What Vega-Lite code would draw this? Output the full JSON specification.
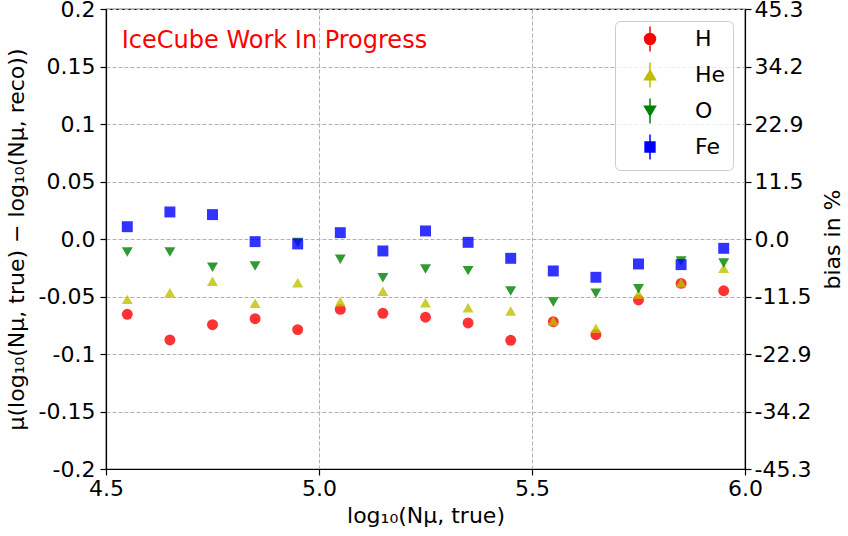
{
  "$schema": "https://vega.github.io/schema/vega-lite/v6.json",
  "autosize": {"type": "none"},
  "width": 639,
  "height": 460,
  "padding": {"left": 106, "top": 9, "right": 103, "bottom": 67},
  "config": {
    "font": "DejaVu Sans",
    "view": {"stroke": "black", "strokeWidth": 1.2},
    "axis": {
      "labelFont": "DejaVu Sans",
      "titleFont": "DejaVu Sans",
      "labelFontSize": 22,
      "titleFontSize": 22,
      "titleFontWeight": "normal",
      "labelColor": "black",
      "titleColor": "black",
      "labelFlush": false,
      "labelOverlap": false,
      "domainColor": "black",
      "domainWidth": 1.2,
      "tickColor": "black",
      "tickSize": 6,
      "tickWidth": 1.2,
      "gridColor": "#b0b0b0",
      "gridDash": [4, 2],
      "gridWidth": 1
    },
    "legend": {
      "labelFont": "DejaVu Sans",
      "labelFontSize": 22,
      "labelColor": "black",
      "orient": "top-right",
      "offset": 12,
      "padding": 7,
      "rowPadding": 4,
      "symbolSize": 120,
      "symbolOffset": 17,
      "labelOffset": 34,
      "symbolOpacity": 1,
      "strokeColor": "#cccccc",
      "cornerRadius": 5,
      "fillColor": "rgba(255,255,255,0.8)"
    }
  },
  "datasets": {
    "bias": [
      {"lg": 4.55, "bias": -0.0655, "comp": "H"},
      {"lg": 4.65, "bias": -0.0878, "comp": "H"},
      {"lg": 4.75, "bias": -0.0745, "comp": "H"},
      {"lg": 4.85, "bias": -0.0693, "comp": "H"},
      {"lg": 4.95, "bias": -0.0788, "comp": "H"},
      {"lg": 5.05, "bias": -0.0612, "comp": "H"},
      {"lg": 5.15, "bias": -0.0646, "comp": "H"},
      {"lg": 5.25, "bias": -0.068, "comp": "H"},
      {"lg": 5.35, "bias": -0.073, "comp": "H"},
      {"lg": 5.45, "bias": -0.0881, "comp": "H"},
      {"lg": 5.55, "bias": -0.0719, "comp": "H"},
      {"lg": 5.65, "bias": -0.0832, "comp": "H"},
      {"lg": 5.75, "bias": -0.053, "comp": "H"},
      {"lg": 5.85, "bias": -0.0386, "comp": "H"},
      {"lg": 5.95, "bias": -0.045, "comp": "H"},
      {"lg": 4.55, "bias": -0.0525, "comp": "He"},
      {"lg": 4.65, "bias": -0.0467, "comp": "He"},
      {"lg": 4.75, "bias": -0.0368, "comp": "He"},
      {"lg": 4.85, "bias": -0.0559, "comp": "He"},
      {"lg": 4.95, "bias": -0.038, "comp": "He"},
      {"lg": 5.05, "bias": -0.0545, "comp": "He"},
      {"lg": 5.15, "bias": -0.0455, "comp": "He"},
      {"lg": 5.25, "bias": -0.0554, "comp": "He"},
      {"lg": 5.35, "bias": -0.0597, "comp": "He"},
      {"lg": 5.45, "bias": -0.0626, "comp": "He"},
      {"lg": 5.55, "bias": -0.0713, "comp": "He"},
      {"lg": 5.65, "bias": -0.0777, "comp": "He"},
      {"lg": 5.75, "bias": -0.0478, "comp": "He"},
      {"lg": 5.85, "bias": -0.038, "comp": "He"},
      {"lg": 5.95, "bias": -0.0255, "comp": "He"},
      {"lg": 4.55, "bias": -0.0113, "comp": "O"},
      {"lg": 4.65, "bias": -0.0113, "comp": "O"},
      {"lg": 4.75, "bias": -0.0246, "comp": "O"},
      {"lg": 4.85, "bias": -0.0235, "comp": "O"},
      {"lg": 4.95, "bias": -0.003, "comp": "O"},
      {"lg": 5.05, "bias": -0.0177, "comp": "O"},
      {"lg": 5.15, "bias": -0.0336, "comp": "O"},
      {"lg": 5.25, "bias": -0.026, "comp": "O"},
      {"lg": 5.35, "bias": -0.0275, "comp": "O"},
      {"lg": 5.45, "bias": -0.0452, "comp": "O"},
      {"lg": 5.55, "bias": -0.0548, "comp": "O"},
      {"lg": 5.65, "bias": -0.0472, "comp": "O"},
      {"lg": 5.75, "bias": -0.0432, "comp": "O"},
      {"lg": 5.85, "bias": -0.0191, "comp": "O"},
      {"lg": 5.95, "bias": -0.0209, "comp": "O"},
      {"lg": 4.55, "bias": 0.0107, "comp": "Fe"},
      {"lg": 4.65, "bias": 0.0235, "comp": "Fe"},
      {"lg": 4.75, "bias": 0.0212, "comp": "Fe"},
      {"lg": 4.85, "bias": -0.0023, "comp": "Fe"},
      {"lg": 4.95, "bias": -0.0043, "comp": "Fe"},
      {"lg": 5.05, "bias": 0.0055, "comp": "Fe"},
      {"lg": 5.15, "bias": -0.0104, "comp": "Fe"},
      {"lg": 5.25, "bias": 0.007, "comp": "Fe"},
      {"lg": 5.35, "bias": -0.0029, "comp": "Fe"},
      {"lg": 5.45, "bias": -0.0168, "comp": "Fe"},
      {"lg": 5.55, "bias": -0.0278, "comp": "Fe"},
      {"lg": 5.65, "bias": -0.0333, "comp": "Fe"},
      {"lg": 5.75, "bias": -0.0217, "comp": "Fe"},
      {"lg": 5.85, "bias": -0.0223, "comp": "Fe"},
      {"lg": 5.95, "bias": -0.0081, "comp": "Fe"}
    ],
    "note": [
      {"lg": 4.537, "bias": 0.172, "label": "IceCube Work In Progress"}
    ]
  },
  "layer": [
    {
      "data": {"name": "bias"},
      "mark": {"type": "point", "filled": true, "size": 120, "opacity": 0.8},
      "encoding": {
        "x": {
          "field": "lg",
          "type": "quantitative",
          "scale": {"domain": [4.5, 6.0], "nice": false, "zero": false},
          "axis": {
            "values": [4.5, 5.0, 5.5, 6.0],
            "format": ".1f",
            "labelPadding": 3,
            "title": "log₁₀(Nμ, true)",
            "titlePadding": 6
          }
        },
        "y": {
          "field": "bias",
          "type": "quantitative",
          "scale": {"domain": [-0.2, 0.2], "nice": false, "zero": false},
          "axis": {
            "orient": "left",
            "values": [-0.2, -0.15, -0.1, -0.05, 0, 0.05, 0.1, 0.15, 0.2],
            "labelExpr": "datum.value == 0 ? '0.0' : replace(format(datum.value, '.2~f'), '\u2212', '-')",
            "labelPadding": 5,
            "title": "μ(log₁₀(Nμ, true) − log₁₀(Nμ, reco))",
            "titlePadding": 10
          }
        },
        "color": {
          "field": "comp",
          "type": "nominal",
          "scale": {"domain": ["H", "He", "O", "Fe"], "range": ["#ff0000", "#bfbf00", "#008000", "#0000ff"]},
          "legend": null
        },
        "shape": {
          "field": "comp",
          "type": "nominal",
          "scale": {"domain": ["H", "He", "O", "Fe"], "range": ["circle", "triangle-up", "triangle-down", "square"]},
          "legend": null
        }
      }
    },
    {
      "data": {"name": "bias"},
      "mark": {"type": "point", "filled": true, "size": 0, "strokeWidth": 1.5},
      "encoding": {
        "x": {"field": "lg", "type": "quantitative"},
        "y": {"field": "bias", "type": "quantitative", "axis": null},
        "color": {
          "field": "comp",
          "type": "nominal",
          "scale": {"domain": ["H", "He", "O", "Fe"], "range": ["#ff0000", "#bfbf00", "#008000", "#0000ff"]},
          "legend": {"title": null}
        },
        "stroke": {
          "field": "comp",
          "type": "nominal",
          "scale": {"domain": ["H", "He", "O", "Fe"], "range": ["#ff0000", "#bfbf00", "#008000", "#0000ff"]},
          "legend": {"title": null}
        },
        "shape": {
          "field": "comp",
          "type": "nominal",
          "scale": {
            "domain": ["H", "He", "O", "Fe"],
            "range": [
              "M-1,0A1,1 0 1,1 1,0A1,1 0 1,1 -1,0Z M0,-2.3L0,2.3",
              "M0,-0.866L-1,0.866L1,0.866Z M0,-2.3L0,2.3",
              "M0,0.866L-1,-0.866L1,-0.866Z M0,-2.3L0,2.3",
              "M-0.9,-0.9H0.9V0.9H-0.9Z M0,-2.3L0,2.3"
            ]
          },
          "legend": {"title": null}
        }
      }
    },
    {
      "data": {"name": "note"},
      "mark": {"type": "text", "align": "left", "baseline": "middle", "fontSize": 24, "color": "#ff0000", "font": "DejaVu Sans"},
      "encoding": {
        "x": {"field": "lg", "type": "quantitative"},
        "y": {
          "field": "bias",
          "type": "quantitative",
          "axis": {
            "orient": "right",
            "grid": false,
            "values": [-0.2, -0.15, -0.1, -0.05, 0, 0.05, 0.1, 0.15, 0.2],
            "labelExpr": "['-45.3', '-34.2', '-22.9', '-11.5', '0.0', '11.5', '22.9', '34.2', '45.3'][round(datum.value * 20) + 4]",
            "labelPadding": 3,
            "title": "bias in %",
            "titleAngle": 270,
            "titleAlign": "center",
            "titleBaseline": "middle",
            "titleX": 87,
            "titleY": 230
          }
        },
        "text": {"field": "label"}
      }
    }
  ],
  "resolve": {
    "axis": {"y": "independent"},
    "scale": {"color": "independent", "shape": "independent", "stroke": "independent"}
  }
}
